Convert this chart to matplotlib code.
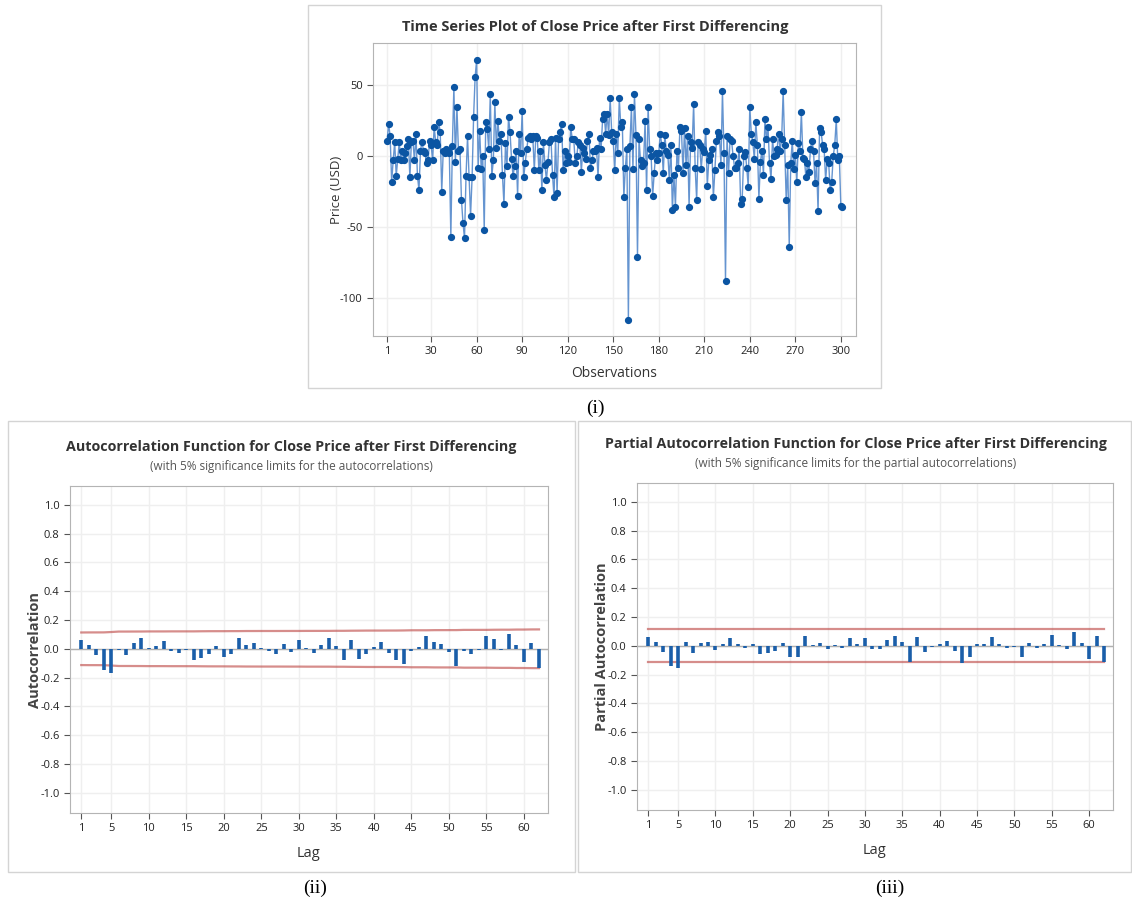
import numpy as np
import matplotlib
matplotlib.use("Agg")
import matplotlib.pyplot as plt
from matplotlib.patches import Rectangle

plt.rcParams['font.family'] = ['Open Sans', 'DejaVu Sans']
plt.rcParams['axes.unicode_minus'] = False

# differenced close price (obs 1..301)
diffPrice = [
    11, 23, 14, -18, -3, 10, -14, -2, 10, -3,
    4, -3, 2, 7, 12, -15, 10, 11, -3, 16,
    -14, -24, 4, 10, 4, 2, -5, -3, 11, 8,
    -3, 21, 10, 8, 24, 17, -25, 4, 2, 5,
    4, 2, -57, 7, 49, -4, 35, 4, 5, -31,
    -47, -58, -14, 14, -15, -42, -15, 28, 56, 68,
    -8, 18, -9, 0, -52, 24, 19, 5, 44, -14,
    -3, 38, 6, 25, 11, 16, -13, -34, 9, -7,
    28, 17, -2, -14, -7, 4, -28, 16, 2, 32,
    -15, -5, 5, 13, 14, 12, 14, -10,
    14, 13, -10, 4, -24, 10, -6, -17, -4, 10,
    12, -13, -29, 13, -26, 12, 17, 23, -10, 4,
    -5, 0, -4, 21, 12, 12, -5, 0, 10, 8,
    -11, 6, 2, -2, 11, 16, -8, -3, 4, 4,
    6, -15, 13, 5, 26, 30, 16, 30, 15, 41,
    17, 11, -10, 16, 2, 41, 21, 24, -29, -8,
    5, -116, 7, 35, -9, 44, 15, -71, 12, -3,
    -7, -5, 25, -24, 35, 5, 0, -28, -12, 2,
    -3, 2, 16, 8, -12, 15, 4, 1, -17, 8,
    -38, -13, -36, 4, -8, 21, 18, -12, 20, -6,
    14, -36, 10, 6, 37, -8, -31, 10, 8, -9,
    5, 3, 18, -21, -3, 1, 5, -29, -10, 11,
    17, 14, -6, 46, 2, -88, 14, -12, 12, 11,
    0, -8, -8, -5, 5, -34, -30, 0, 3, -8,
    -22, 35, 16, 10, -2,
    24, 8, -30, -4, 4, -13, 26, 12, 21, -5,
    -16, 12, 0, 1, 5, 16, 4, 12, 46, 8,
    -31, -6, -64, -5, 11, -9, 1, -18, 9, 4,
    31, -1, -2, -15, -5, -11, 5, 11, 4, -19,
    -5, -39, 20, 17, 8, 5, -17, -2, -5, -24,
    -18, 0, 8, 26, -3, 0, -35, -36,
]

acfVals = [
    0.059, 0.028, -0.040, -0.150, -0.170, -0.005, -0.045, 0.040, 0.073, 0.003,
    0.019, 0.056, -0.012, -0.028, -0.005, -0.080, -0.063, -0.033, 0.019, -0.059,
    -0.035, 0.073, 0.024, 0.038, 0.002, -0.012, -0.035, 0.035, -0.021, 0.059,
    0.003, -0.028, 0.024, 0.073, 0.019, -0.078, 0.059, -0.068, -0.035, 0.014,
    0.047, -0.028, -0.075, -0.106, -0.016, 0.014, 0.092, 0.047, 0.031, -0.024,
    -0.122, -0.012, -0.035, -0.005, 0.087, 0.066, -0.009, 0.101, 0.026, -0.094,
    0.042, -0.134,
]

pacfVals = [
    0.058, 0.023, -0.041, -0.140, -0.152, 0.023, -0.048, 0.016, 0.028, -0.030,
    0.012, 0.051, 0.012, -0.018, 0.012, -0.058, -0.048, -0.035, 0.021, -0.080,
    -0.076, 0.067, 0.002, 0.016, -0.025, 0.005, -0.014, 0.051, 0.012, 0.051,
    -0.020, -0.023, 0.040, 0.070, 0.028, -0.110, 0.062, -0.041, -0.005, 0.014,
    0.032, -0.035, -0.120, -0.076, 0.012, 0.014, 0.062, 0.009, -0.014, -0.009,
    -0.076, 0.018, -0.018, 0.014, 0.078, 0.005, -0.020, 0.099, 0.021, -0.090,
    0.067, -0.110,
]

nObs = 300
tsTicks = [1, 30, 60, 90, 120, 150, 180, 210, 240, 270, 300]
lagTicks = [1, 5, 10, 15, 20, 25, 30, 35, 40, 45, 50, 55, 60]
corrTicks = [-1.0, -0.8, -0.6, -0.4, -0.2, 0.0, 0.2, 0.4, 0.6, 0.8, 1.0]

W, H = 1132, 905
fig = plt.figure(figsize=(W / 100, H / 100), dpi=100)
fig.patch.set_facecolor('white')

textCol = '#333333'
gridCol = '#efefef'
spineCol = '#b4b4b4'
blue = '#1a5ea9'


def box(x0, y0, x1, y1):
    # pixel coords (top-left origin) -> figure fraction
    fig.patches.append(Rectangle((x0 / W, 1 - y1 / H), (x1 - x0) / W, (y1 - y0) / H,
                                 transform=fig.transFigure, fill=False,
                                 edgecolor='#d4d4d4', linewidth=1))


def axesAt(x0, y0, x1, y1):
    return fig.add_axes([x0 / W, 1 - y1 / H, (x1 - x0) / W, (y1 - y0) / H])


def styleAx(ax):
    for s in ax.spines.values():
        s.set_color(spineCol)
    ax.tick_params(colors='#555555', labelcolor='#222222', labelsize=8, length=4)
    ax.grid(True, color=gridCol, linewidth=1)
    ax.set_axisbelow(True)


# ---- (i) time series
box(308, 5, 881, 388)
ax1 = axesAt(373, 43, 856, 336)
styleAx(ax1)
obs = np.arange(1, len(diffPrice) + 1)
ax1.plot(obs, diffPrice, color='#4a82c8', linewidth=1, alpha=0.85, zorder=2)
ax1.plot(obs, diffPrice, 'o', color='#0b55a3', markersize=4.2, zorder=3)
ax1.set_xlim(-8.3, 310)
ax1.set_ylim(-127, 80)
ax1.set_xticks(tsTicks)
ax1.set_yticks([-100, -50, 0, 50])
ax1.set_xlabel('Observations', fontsize=10, color=textCol, labelpad=6)
ax1.set_ylabel('Price (USD)', fontsize=9.5, color=textCol, labelpad=-2)
fig.text(595 / W, 1 - 27 / H, 'Time Series Plot of Close Price after First Differencing',
         ha='center', va='center', fontsize=10.5, fontweight='bold', color=textCol)
fig.text(595 / W, 1 - 408 / H, '(i)', ha='center', va='center', fontsize=14,
         family='Liberation Serif')


def corrPanel(vals, rect, cx, title, sub, ylab, bartlett):
    ax = axesAt(*rect)
    styleAx(ax)
    lags = np.arange(1, len(vals) + 1)
    v = np.array(vals)
    if bartlett:
        cum = np.concatenate([[0], np.cumsum(v[:-1] ** 2)])
        lim = 1.96 * np.sqrt((1 + 2 * cum) / nObs)
    else:
        lim = np.full(len(v), 1.96 / np.sqrt(nObs))
    ax.axhline(0, color='#b0b0b0', linewidth=1, zorder=1)
    ax.plot(lags, lim, color='#c0504d', alpha=0.65, linewidth=1.6, zorder=2)
    ax.plot(lags, -lim, color='#c0504d', alpha=0.65, linewidth=1.6, zorder=2)
    ax.vlines(lags, 0, v, color=blue, linewidth=2.6, zorder=3)
    ax.set_xlim(-0.5, 63.2)
    ax.set_ylim(-1.14, 1.13)
    ax.set_xticks(lagTicks)
    ax.set_yticks(corrTicks)
    ax.set_yticklabels(['%.1f' % t for t in corrTicks])
    ax.set_xlabel('Lag', fontsize=10.5, color=textCol, labelpad=8)
    ax.set_ylabel(ylab, fontsize=10.5, fontweight='bold', color='#444444', labelpad=-1)
    fig.text(cx / W, 1 - (rect[1] - 39) / H, title, ha='center', va='center',
             fontsize=10.3, fontweight='bold', color=textCol)
    fig.text(cx / W, 1 - (rect[1] - 20) / H, sub, ha='center', va='center',
             fontsize=8.5, color='#555555')
    return ax


box(8, 421, 575, 872)
corrPanel(acfVals, (70, 486, 548, 813), 291,
          'Autocorrelation Function for Close Price after First Differencing',
          '(with 5% significance limits for the autocorrelations)',
          'Autocorrelation', True)
fig.text(315 / W, 1 - 888 / H, '(ii)', ha='center', va='center', fontsize=14,
         family='Liberation Serif')

box(578, 421, 1131, 872)
corrPanel(pacfVals, (637, 483, 1113, 810), 856,
          'Partial Autocorrelation Function for Close Price after First Differencing',
          '(with 5% significance limits for the partial autocorrelations)',
          'Partial Autocorrelation', False)
fig.text(890 / W, 1 - 888 / H, '(iii)', ha='center', va='center', fontsize=14,
         family='Liberation Serif')

fig.savefig('out.png', dpi=100)
